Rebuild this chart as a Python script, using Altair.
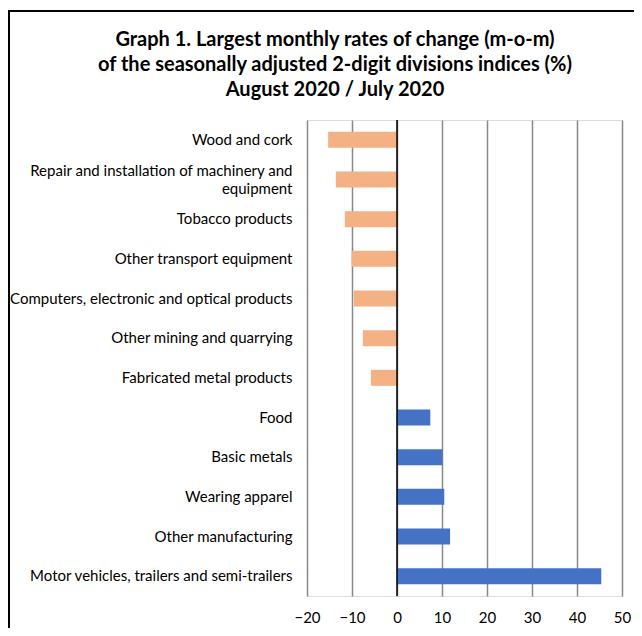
import altair as alt
import pandas as pd

categories = [
    "Wood and cork",
    "Repair and installation of machinery and equipment",
    "Tobacco products",
    "Other transport equipment",
    "Computers, electronic and optical products",
    "Other mining and quarrying",
    "Fabricated metal products",
    "Food",
    "Basic metals",
    "Wearing apparel",
    "Other manufacturing",
    "Motor vehicles, trailers and semi-trailers",
]
values = [-15.3, -13.6, -11.6, -10.1, -9.6, -7.6, -5.8, 7.4, 10.1, 10.5, 11.8, 45.4]
x_ticks = [-20, -10, 0, 10, 20, 30, 40, 50]
title_lines = [
    "Graph 1. Largest monthly rates of change (m-o-m)",
    "of the seasonally adjusted 2-digit divisions indices (%)",
    "August 2020 / July 2020",
]

df = pd.DataFrame({"cat": categories, "val": values})
df["sign"] = ["neg" if v < 0 else "pos" for v in values]

FONT = "Lato"
LONG = "Repair and installation of machinery and equipment"
PAD = "\u00a0" * 25

label_expr = ("datum.value == '" + LONG + "' ? "
              "['Repair and installation of machinery and', 'equipment" + PAD + "'] : datum.value")

bars = alt.Chart(df).mark_bar(height=16).encode(
    x=alt.X("val:Q", scale=alt.Scale(domain=[-20, 50], nice=False),
            axis=alt.Axis(values=x_ticks, title=None, ticks=False, domain=False,
                          grid=True, gridColor="#898989", gridWidth=1.5,
                          labelFont=FONT, labelFontSize=15, labelColor="#000",
                          labelPadding=14, labelFlush=False)),
    y=alt.Y("cat:N", sort=categories,
            axis=alt.Axis(title=None, ticks=False, domain=False,
                          labelFont=FONT, labelFontSize=15, labelColor="#000",
                          labelPadding=15, labelLimit=300, labelExpr=label_expr,
                          labelLineHeight=18,
                          labelOffset={"condition": {"test": "datum.value == '" + LONG + "'",
                                                     "value": -9},
                                       "value": 0})),
    color=alt.Color("sign:N", scale=alt.Scale(domain=["neg", "pos"],
                                              range=["#F4B183", "#4472C4"]),
                    legend=None),
)

zero = alt.Chart(pd.DataFrame({"z": [0]})).mark_rule(color="black", strokeWidth=1.5).encode(
    x="z:Q"
)

frame = alt.Chart(pd.DataFrame({"a": [0]})).mark_rect(
    fill=None, stroke="black", strokeWidth=2
).encode(
    x=alt.value(-298), x2=alt.value(400), y=alt.value(-109), y2=alt.value(600)
)

title_layers = []
for i, line in enumerate(title_lines):
    title_layers.append(
        alt.Chart(pd.DataFrame({"t": [line]})).mark_text(
            font=FONT, fontSize=20, fontWeight="bold", color="#000",
            align="center", baseline="alphabetic"
        ).encode(text="t:N", x=alt.value(28), y=alt.value(-74 + 25 * i))
    )

chart = alt.layer(frame, bars, zero, *title_layers).properties(
    width=315,
    height=476,
    autosize=alt.AutoSizeParams(type="none"),
    padding={"left": 299, "top": 112, "right": 12, "bottom": 32},
).configure_view(
    stroke="black", strokeWidth=1.5
).configure(background="white")

chart.save("out.html", embed_options={"renderer": "svg", "actions": False})
